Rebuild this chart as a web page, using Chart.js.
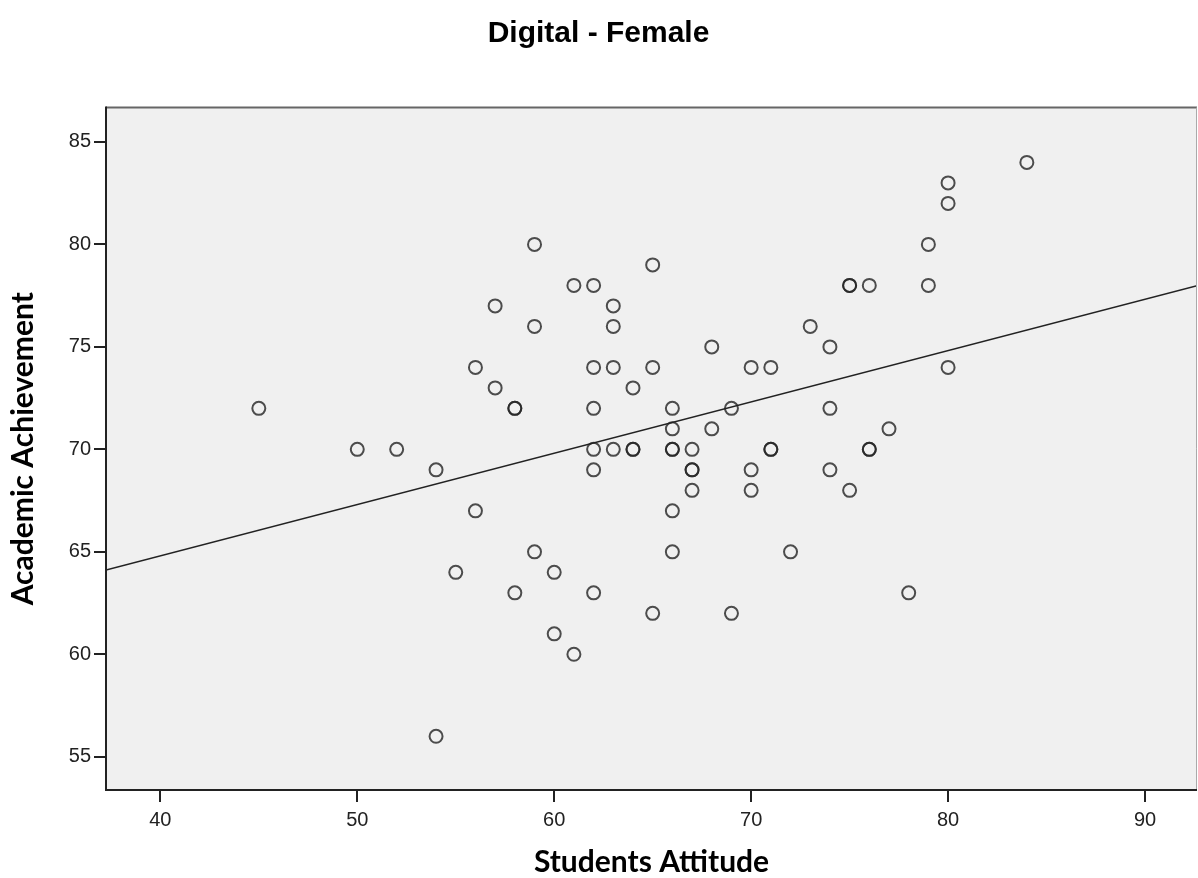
<!doctype html>
<html lang="en">
<head>
  <meta charset="utf-8">
  <title>Digital - Female</title>
  <style>
    * { margin: 0; padding: 0; }
    body { background: white; }
    #myChart { display: block; }
  </style>
</head>
<body>
  <canvas id="myChart" width="1198" height="878"></canvas>

  <script src="https://cdn.jsdelivr.net/npm/chart.js"></script>
  <script>
    // scatter data: Students Attitude (x) vs Academic Achievement (y)
    const attitude = [45,50,52,54,54,55,56,56,57,57,58,58,58,59,59,59,60,60,61,61,
      62,62,62,62,62,62,63,63,63,63,64,64,64,65,65,65,66,66,66,66,66,66,
      67,67,67,67,68,68,69,69,70,70,70,71,71,71,72,73,74,74,74,75,75,75,
      76,76,76,77,78,79,79,80,80,80,84];
    const achievement = [72,70,70,69,56,64,74,67,77,73,72,72,63,80,76,65,64,61,78,60,
      78,74,72,70,69,63,77,76,74,70,73,70,70,79,74,62,72,71,70,70,67,65,
      70,69,69,68,75,71,72,62,74,69,68,74,70,70,65,76,75,72,69,78,78,68,
      78,70,70,71,63,80,78,83,82,74,84];

    // fit line end points
    const fitX = [37.24, 92.64];
    const fitY = [64.11, 77.98];

    const xTicks = [40, 50, 60, 70, 80, 90];
    const yTicks = [55, 60, 65, 70, 75, 80, 85];

    const points = attitude.map((v, i) => ({ x: v, y: achievement[i] }));
    const fitLine = fitX.map((v, i) => ({ x: v, y: fitY[i] }));

    // grey plot background and frame
    const frame = {
      id: 'frame',
      beforeDraw(chart) {
        const { ctx, chartArea: a } = chart;
        ctx.save();
        ctx.fillStyle = '#f0f0f0';
        ctx.fillRect(a.left, a.top, a.right - a.left, a.bottom - a.top);
        ctx.restore();
      },
      afterDraw(chart) {
        const { ctx, chartArea: a } = chart;
        ctx.save();
        ctx.lineWidth = 2;
        ctx.strokeStyle = '#666';
        ctx.beginPath(); ctx.moveTo(a.left, a.top); ctx.lineTo(a.right, a.top); ctx.stroke();
        ctx.strokeStyle = '#aaa';
        ctx.lineWidth = 1;
        ctx.beginPath(); ctx.moveTo(a.right - 0.5, a.top); ctx.lineTo(a.right - 0.5, a.bottom); ctx.stroke();
        ctx.lineWidth = 2;
        ctx.strokeStyle = '#222';
        ctx.beginPath(); ctx.moveTo(a.left, a.top - 1); ctx.lineTo(a.left, a.bottom); ctx.lineTo(a.right, a.bottom); ctx.stroke();
        ctx.restore();
      }
    };

    const tickFont = { family: "'Liberation Sans', Arial, sans-serif", size: 20 };
    const axisTitleFont = { family: "Lato, 'Open Sans', sans-serif", size: 30, weight: 'bold', lineHeight: 1 };

    new Chart(document.getElementById('myChart'), {
      type: 'scatter',
      data: {
        datasets: [
          {
            label: 'Fit',
            data: fitLine,
            showLine: true,
            borderColor: '#222',
            borderWidth: 1.5,
            pointRadius: 0
          },
          {
            label: 'Students',
            data: points,
            pointStyle: 'circle',
            pointRadius: 6.5,
            pointBorderWidth: 2,
            borderColor: 'rgba(35,35,35,0.8)',
            backgroundColor: 'rgba(0,0,0,0)'
          }
        ]
      },
      options: {
        responsive: false,
        animation: false,
        layout: { autoPadding: false, padding: { top: 0, left: 0, right: 1, bottom: 0 } },
        scales: {
          x: {
            type: 'linear',
            min: 37.24,
            max: 92.64,
            afterBuildTicks: (s) => { s.ticks = xTicks.map(v => ({ value: v })); },
            afterFit: (s) => { s.height = 88; s.paddingLeft = 0; s.paddingRight = 0; },
            border: { display: false },
            grid: { drawOnChartArea: false, drawTicks: true, tickLength: 12, tickColor: '#222', lineWidth: 2 },
            ticks: { color: '#222', font: tickFont, padding: 6 },
            title: {
              display: true,
              text: 'Students Attitude',
              color: '#000',
              font: axisTitleFont,
              padding: { top: 0, bottom: 1 }
            }
          },
          y: {
            type: 'linear',
            min: 53.38,
            max: 86.68,
            afterBuildTicks: (s) => { s.ticks = yTicks.map(v => ({ value: v })); },
            afterFit: (s) => { s.width = 106; s.paddingTop = 0; s.paddingBottom = 0; },
            border: { display: false },
            grid: { drawOnChartArea: false, drawTicks: true, tickLength: 12, tickColor: '#222', lineWidth: 2 },
            ticks: { color: '#222', font: tickFont, padding: 3 },
            title: {
              display: true,
              text: 'Academic Achievement',
              color: '#000',
              font: axisTitleFont,
              padding: { top: 8, bottom: 0 }
            }
          }
        },
        plugins: {
          legend: { display: false },
          tooltip: { enabled: false },
          title: {
            display: true,
            text: 'Digital - Female',
            color: '#000',
            font: { family: "'Liberation Sans', Arial, sans-serif", size: 30, weight: 'bold' },
            padding: { top: 16, bottom: 55.5 }
          }
        }
      },
      plugins: [frame]
    });
  </script>
</body>
</html>
